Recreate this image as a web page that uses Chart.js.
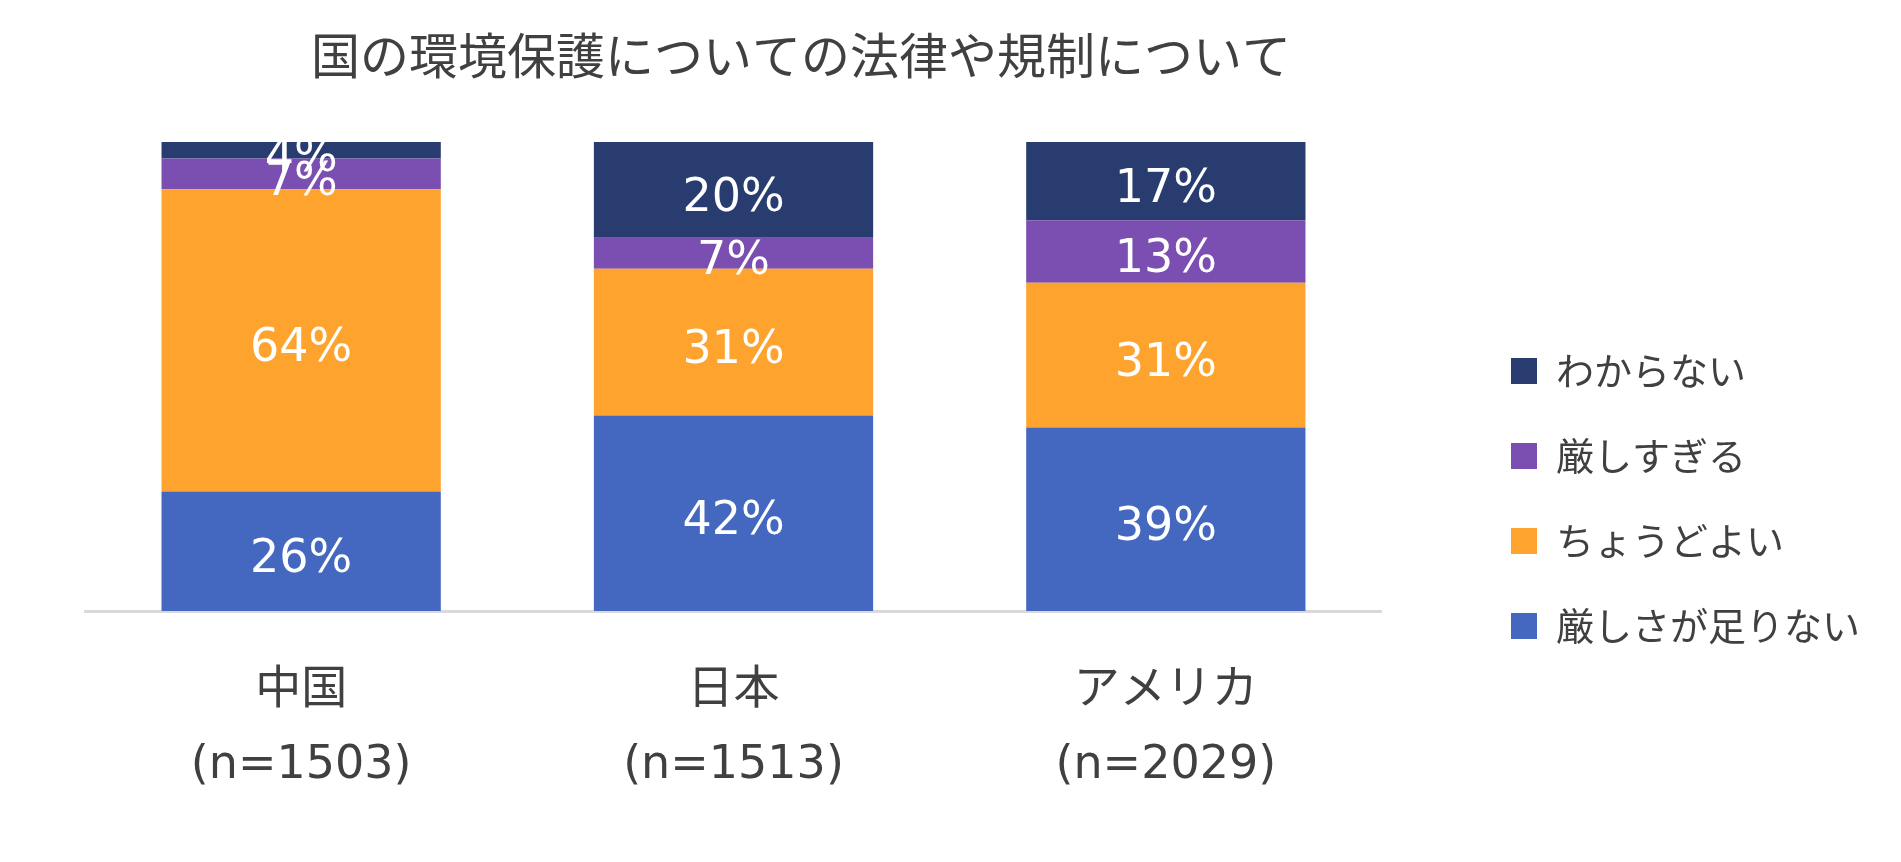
<!DOCTYPE html>
<html lang="ja">
<head>
<meta charset="utf-8">
<script src="https://cdn.jsdelivr.net/npm/chart.js@4/dist/chart.umd.min.js"></script>
<style>
  html, body { margin: 0; padding: 0; background: #ffffff; }
  #wrap { width: 1901px; height: 862px; }
</style>
</head>
<body>
<div id="wrap"><canvas id="c" width="1901" height="862"></canvas></div>
<script>
// ---- data ----
const chartTitle = '国の環境保護についての法律や規制について';
const categories = ['中国', '日本', 'アメリカ'];
const sampleSizes = ['(n=1503)', '(n=1513)', '(n=2029)'];
const seriesNames = ['厳しさが足りない', 'ちょうどよい', '厳しすぎる', 'わからない'];
const notStrictEnough = [25.5, 41.7, 39.1];
const justRight = [64.4, 31.3, 30.9];
const tooStrict = [6.6, 6.6, 13.3];
const dontKnow = [3.5, 20.4, 16.7];
const seriesColors = ['#4468BF', '#FFA32F', '#7B4EB1', '#283C70'];

const seriesValues = [notStrictEnough, justRight, tooStrict, dontKnow];
const TEXT = '#404040';

const datasets = seriesNames.map((name, i) => ({
  label: name,
  data: seriesValues[i],
  backgroundColor: seriesColors[i],
  borderWidth: 0,
  categoryPercentage: 1.0,
  barPercentage: 0.646
}));

const titlePlugin = {
  id: 'customTitle',
  afterDraw(chart) {
    const ctx = chart.ctx;
    ctx.save();
    ctx.font = '49px "Noto Sans CJK JP", sans-serif';
    ctx.fillStyle = TEXT;
    ctx.textAlign = 'center';
    ctx.textBaseline = 'middle';
    ctx.fillText(chartTitle, 801, 55);
    ctx.restore();
  }
};

const valueLabels = {
  id: 'valueLabels',
  afterDatasetsDraw(chart) {
    const ctx = chart.ctx;
    const area = chart.chartArea;
    ctx.save();
    ctx.beginPath();
    ctx.rect(area.left, area.top - 2, area.right - area.left, area.bottom - area.top + 2);
    ctx.clip();
    ctx.font = '46px "DejaVu Sans", sans-serif';
    ctx.fillStyle = '#ffffff';
    ctx.textAlign = 'center';
    ctx.textBaseline = 'middle';
    chart.data.datasets.forEach((ds, di) => {
      const meta = chart.getDatasetMeta(di);
      meta.data.forEach((el, i) => {
        const p = el.getProps(['x', 'y', 'base'], true);
        const cy = (p.y + p.base) / 2 + 9;
        ctx.fillText(Math.round(ds.data[i]) + '%', p.x, cy);
      });
    });
    ctx.restore();
  }
};

new Chart(document.getElementById('c'), {
  type: 'bar',
  data: {
    labels: categories.map((c, i) => [c, sampleSizes[i]]),
    datasets: datasets
  },
  options: {
    responsive: false,
    animation: false,
    devicePixelRatio: 1,
    layout: { padding: { top: 142, bottom: 7, left: 85, right: 31 } },
    plugins: {
      title: { display: false },
      tooltip: { enabled: false },
      legend: {
        position: 'right',
        align: 'center',
        reverse: true,
        labels: {
          boxWidth: 26,
          boxHeight: 26,
          padding: 47,
          color: TEXT,
          font: { family: '"Noto Sans CJK JP", sans-serif', size: 38 }
        }
      }
    },
    scales: {
      x: {
        stacked: true,
        grid: { display: false },
        border: { display: true, color: '#D9D9D9', width: 3 },
        ticks: {
          color: TEXT,
          padding: 34,
          maxRotation: 0,
          font: { family: '"DejaVu Sans", "Noto Sans CJK JP", sans-serif', size: 46, lineHeight: 1.645 }
        },
        afterFit(scale) { scale.height = 244; }
      },
      y: {
        stacked: true,
        position: 'right',
        min: 0,
        max: 100,
        grid: { display: false },
        border: { display: false },
        ticks: { display: false },
        afterFit(scale) { scale.width = 82; }
      }
    }
  },
  plugins: [titlePlugin, valueLabels]
});
</script>
</body>
</html>
